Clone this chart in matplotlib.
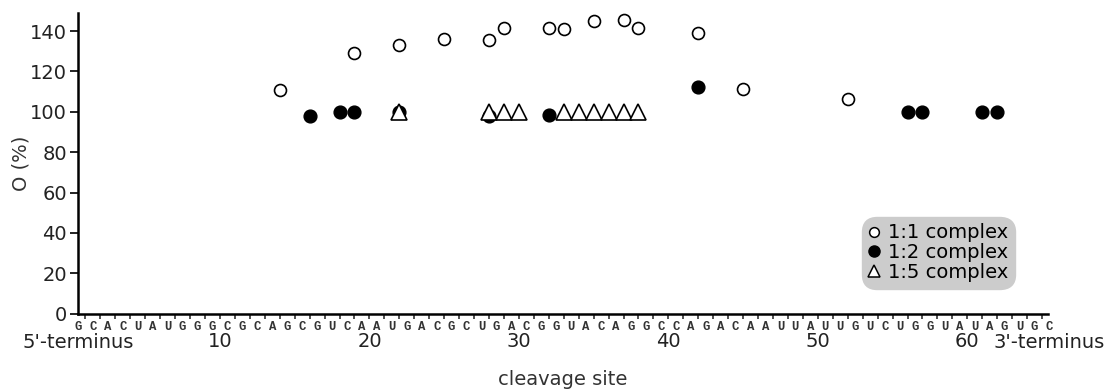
import numpy as np
import matplotlib
matplotlib.use("Agg")
import matplotlib.pyplot as plt
from matplotlib.lines import Line2D

# RNA sequence, 5' -> 3'
sequence = "GCACUAUGGGCGCAGCGUCAAUGACGCUGACGGUACAGGCCAGACAAUUAUUGUCUGGUAUAGUGC"

# 1:1 complex (open circles)
x_11 = [14, 19, 22, 25, 28, 29, 32, 33, 35, 37, 38, 42, 45, 52]
y_11 = [110.8, 129.4, 133.2, 136.2, 135.7, 141.8, 141.5, 141.0, 145.2, 145.3, 141.8, 138.9, 111.4, 106.6]

# 1:2 complex (filled circles)
x_12 = [16, 18, 19, 22, 28, 32, 42, 56, 57, 61, 62]
y_12 = [97.7, 99.8, 99.8, 99.8, 97.7, 98.2, 112.1, 99.8, 99.8, 99.8, 99.8]

# 1:5 complex (open triangles)
x_15 = [22, 28, 29, 30, 33, 34, 35, 36, 37, 38]
y_15 = [100, 100, 100, 100, 100, 100, 100, 100, 100, 100]

yticks = [0, 20, 40, 60, 80, 100, 120, 140]
xlabels_at = [10, 20, 30, 40, 50, 60]

plt.rcParams['font.family'] = ['DejaVu Sans']

fig = plt.figure(figsize=(11.11, 3.9), dpi=100)
ax = fig.add_axes([0.0702, 0.196, 0.8731, 0.7707])

ax.plot(x_12, y_12, 'o', ms=9.2, mfc='black', mec='black', mew=1.0, zorder=3, clip_on=False)
ax.plot(x_15, y_15, '^', ms=11, mfc='white', mec='black', mew=1.2, zorder=4, clip_on=False)
ax.plot(x_11, y_11, 'o', ms=8.6, mfc='white', mec='black', mew=1.2, zorder=5, clip_on=False)

ax.set_xlim(0.5, 65.4)
ax.set_ylim(0, 149)

for s in ['top', 'right']:
    ax.spines[s].set_visible(False)
ax.spines['left'].set_linewidth(1.8)
ax.spines['bottom'].set_linewidth(1.8)

ax.set_yticks(yticks)
ax.tick_params(axis='y', length=5.8, width=1.4, labelsize=14, pad=2, colors='#222222')

ticks = list(range(1, 66))
ax.set_xticks(ticks)
ax.set_xticklabels([str(t) if t in xlabels_at else '' for t in ticks])
ax.tick_params(axis='x', length=3.6, width=1.1, labelsize=14, pad=10, colors='#222222')

# nucleotide letters between the cleavage-site ticks
for i, nt in enumerate(sequence):
    ax.annotate(nt, xy=(i + 0.5, 0), xycoords=('data', 'axes fraction'),
                xytext=(0, -9.5), textcoords='offset points',
                ha='center', va='center', fontsize=8.8, fontweight='bold',
                family='Liberation Mono', color='#333333', annotation_clip=False)

for xpos, txt in [(0.5, "5'-terminus"), (65.5, "3'-terminus")]:
    ax.annotate(txt, xy=(xpos, 0), xycoords=('data', 'axes fraction'),
                xytext=(0, -20.5), textcoords='offset points',
                ha='center', va='center', fontsize=14, color='#222222',
                annotation_clip=False)

ax.set_xlabel('cleavage site', fontsize=14, color='#333333', labelpad=13)
ax.set_ylabel('O (%)', fontsize=14, color='#333333', labelpad=0)

handles = [
    Line2D([], [], ls='', marker='o', ms=7, mfc='white', mec='black', mew=1.1),
    Line2D([], [], ls='', marker='o', ms=8, mfc='black', mec='black'),
    Line2D([], [], ls='', marker='^', ms=8, mfc='white', mec='black', mew=1.1),
]
leg = ax.legend(handles, ['1:1 complex', '1:2 complex', '1:5 complex'],
                loc='lower right', bbox_to_anchor=(0.966, 0.0815), borderaxespad=0,
                fontsize=14, frameon=True, fancybox=True, handlelength=0.6,
                handletextpad=0.4, labelspacing=0.05, borderpad=0.35)
frame = leg.get_frame()
frame.set_facecolor('#cccccc')
frame.set_edgecolor('#cccccc')
frame.set_alpha(1)
frame.set_boxstyle('round,pad=0,rounding_size=0.8')

fig.savefig('out.png', dpi=100)
